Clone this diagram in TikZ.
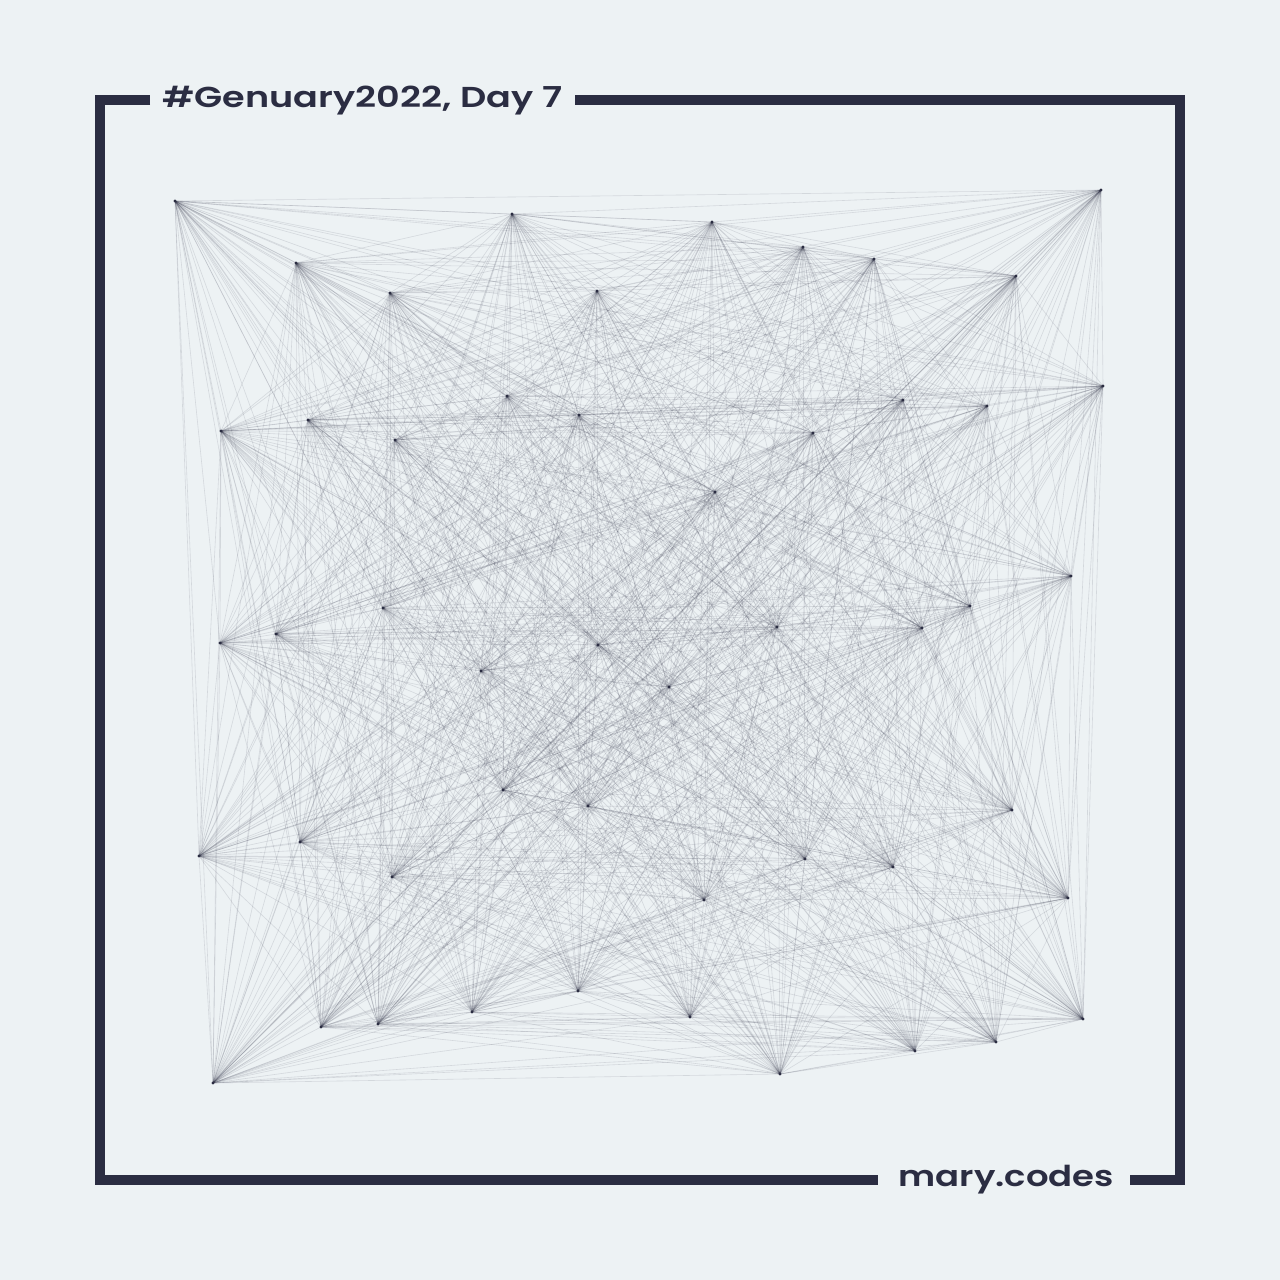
\documentclass[tikz,border=0pt]{standalone}
\usepackage{fontspec}
\usepackage{graphicx}
\newfontfamily\titlefont{Poppins}[UprightFont=* SemiBold]
\definecolor{navy}{HTML}{2B2D42}
\definecolor{bgc}{HTML}{EDF2F4}
\tikzset{
  frameline/.style={draw=navy, line width=5mm, line cap=butt, line join=miter},
  edgeline/.style={draw=navy, draw opacity=0.13, line width=0.3mm},
  dotmark/.style={fill=navy},
  label/.style={font=\titlefont\fontsize{41}{48}\selectfont, text=navy, inner sep=0pt}
}
\begin{document}
\begin{tikzpicture}[x=0.5mm, y=-0.5mm]
\fill[bgc] (0,0) rectangle (1280,1280);
\useasboundingbox (0,0) rectangle (1280,1280);
% frame
\draw[frameline] (150,100) -- (100,100) -- (100,1180) -- (878,1180);
\draw[frameline] (575,100) -- (1180,100) -- (1180,1180) -- (1130,1180);
\node[label, anchor=base west] (title) at (162,108) {\scalebox{1.27}[1]{\#Genuary2022, Day 7}};
\node[label, anchor=base east] (sig) at (1114,1186) {\scalebox{1.23}[1]{mary.codes}};
% points
\foreach \n/\px/\py in {
 1/175/201, 2/512/214, 3/296/263, 4/390/293, 5/597/291, 6/507/396, 7/308/420, 8/579/415,
 9/221/431, 10/395/440, 11/383/608, 12/276/634,
 13/712/222, 14/803/247, 15/874/259, 16/1101/190, 17/1016/276, 18/1103/386, 19/903/400,
 20/987/406, 21/813/433, 22/715/492, 23/1071/576, 24/970/606, 25/777/627, 26/922/628,
 27/220/643, 28/481/671, 29/598/645, 30/503/790, 31/588/806, 32/199/856, 33/300/842,
 34/392/877, 35/578/991, 36/472/1012, 37/378/1024, 38/321/1027, 39/213/1083,
 40/669/687, 41/1012/810, 42/805/859, 43/893/867, 44/1068/898, 45/704/900, 46/690/1017,
 47/1083/1019, 48/996/1042, 49/915/1051, 50/780/1074}
 { \coordinate (p\n) at (\px,\py); }
% edges
\foreach \i in {1,...,49} {
  \pgfmathtruncatemacro\nxt{\i+1}
  \foreach \j in {\nxt,...,50} {
    \draw[edgeline] (p\i) -- (p\j);
  }
}
% dots
\foreach \n in {1,...,50} { \fill[dotmark] (p\n) circle (0.85mm); }
\end{tikzpicture}
\end{document}
